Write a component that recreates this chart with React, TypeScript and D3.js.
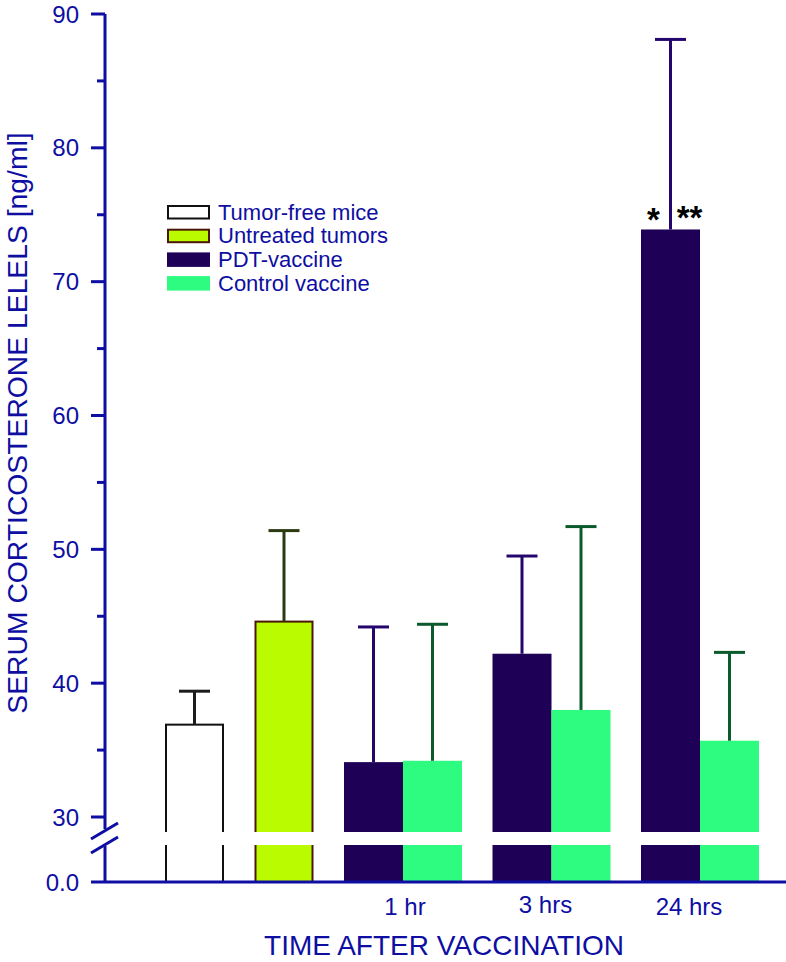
import React from "react";
import * as d3 from "d3";

// ---- data ----
const categories = ["Tumor-free", "Untreated", "1 hr", "3 hrs", "24 hrs"];
const categoryLabels = ["", "", "1 hr", "3 hrs", "24 hrs"];
const legendNames = ["Tumor-free mice", "Untreated tumors", "PDT-vaccine", "Control vaccine"];
const baselineMeans = [36.9, 44.6];
const baselineUpper = [39.4, 51.4];
const pdtMeans = [34.1, 42.2, 73.9];
const pdtUpper = [44.2, 49.5, 88.1];
const controlMeans = [34.2, 38.0, 35.7];
const controlUpper = [44.4, 51.7, 42.3];
const majorTicks = [30, 40, 50, 60, 70, 80, 90];
const minorTicks = [35, 45, 55, 65, 75, 85];

// ---- styles ----
const BLUE = "#0e0ea2";
const FONT = "'Liberation Sans', Arial, Helvetica, sans-serif";
const fills = ["#ffffff", "#bbfb00", "#1e0057", "#2efc80"];
const strokes = ["#111111", "#4a1608", "none", "none"];
const errColors = ["#1c1c1c", "#2c3a12", "#24066e", "#0b5a2c"];

type Bar = { key: string; series: number; cat: number; mean: number; upper: number };

export default function App() {
  const W = 786;
  const H = 962;

  const yUp = d3.scaleLinear().domain([30, 90]).range([817, 14]);
  const breakTop = 832;
  const breakBottom = 845;
  const yLow = d3.scaleLinear().domain([0, 2.8]).range([882, breakBottom]);
  const axisX = 105;

  // build bars
  const bars: Bar[] = [];
  baselineMeans.forEach((m, i) =>
    bars.push({ key: `b${i}`, series: i, cat: i, mean: m, upper: baselineUpper[i] })
  );
  pdtMeans.forEach((m, i) => {
    bars.push({ key: `p${i}`, series: 2, cat: i + 2, mean: m, upper: pdtUpper[i] });
    bars.push({ key: `c${i}`, series: 3, cat: i + 2, mean: controlMeans[i], upper: controlUpper[i] });
  });

  // layout in units: bar = 1, gap between categories = gapRatio
  const gapRatio = 0.517;
  const counts = categories.map((_, ci) => bars.filter((b) => b.cat === ci).length);
  const starts: number[] = [];
  let cursor = 0;
  counts.forEach((n, i) => {
    starts.push(cursor);
    cursor += n + (i < counts.length - 1 ? gapRatio : 0);
  });
  const x = d3.scaleLinear().domain([0, cursor]).range([165, 759]);
  const bw = x(1) - x(0);
  const barX = (b: Bar) => {
    const idx = bars.filter((o) => o.cat === b.cat).indexOf(b);
    return x(starts[b.cat] + idx);
  };
  const catCenter = (ci: number) => x(starts[ci] + counts[ci] / 2);

  const capW = 31;

  return (
    <svg width={W} height={H} style={{ position: "absolute", left: 0, top: 0, background: "#fff" }}>
      <rect x={0} y={0} width={W} height={H} fill="#fff" />
      {/* bars */}
      {bars.map((b) => {
        const bx = barX(b);
        const top = yUp(b.mean);
        const bottom = yLow(0);
        const sw = b.series === 0 ? 2 : b.series === 1 ? 2 : 0;
        return (
          <rect
            key={b.key}
            x={bx + sw / 2}
            y={top}
            width={bw - sw}
            height={bottom - top}
            fill={fills[b.series]}
            stroke={strokes[b.series]}
            strokeWidth={sw}
          />
        );
      })}
      {/* error bars */}
      {bars.map((b) => {
        const cx = barX(b) + bw / 2;
        const top = yUp(b.upper);
        return (
          <g key={"e" + b.key} stroke={errColors[b.series]} strokeWidth={3}>
            <line x1={cx} x2={cx} y1={yUp(b.mean)} y2={top} />
            <line x1={cx - capW / 2} x2={cx + capW / 2} y1={top} y2={top} />
          </g>
        );
      })}
      {/* significance */}
      {(() => {
        const b = bars.find((o) => o.key === "p2")!;
        const cx = barX(b) + bw / 2;
        const yy = yUp(b.mean);
        return (
          <g fontFamily={FONT} fontWeight="bold" fontSize={33} fill="#000">
            <text x={cx - 17} y={yy + 1.5} textAnchor="middle">*</text>
            <text x={cx + 19} y={yy} textAnchor="middle">**</text>
          </g>
        );
      })()}
      {/* break band */}
      <rect x={axisX + 2} y={breakTop} width={W} height={breakBottom - breakTop} fill="#fff" />

      {/* y axis */}
      <g stroke={BLUE} strokeWidth={3}>
        <line x1={axisX} x2={axisX} y1={yUp(90)} y2={829} />
        <line x1={axisX} x2={axisX} y1={846} y2={yLow(0)} />
        {majorTicks.map((t) => (
          <line key={t} x1={91} x2={axisX} y1={yUp(t)} y2={yUp(t)} />
        ))}
        {minorTicks.map((t) => (
          <line key={t} x1={97} x2={axisX} y1={yUp(t)} y2={yUp(t)} />
        ))}
        <line x1={91} x2={118} y1={839} y2={823} />
        <line x1={91} x2={118} y1={853} y2={837} />
        {/* x axis */}
        <line x1={91} x2={W} y1={yLow(0)} y2={yLow(0)} />
      </g>
      <g fontFamily={FONT} fontSize={24} fill={BLUE} textAnchor="end">
        {majorTicks.map((t) => (
          <text key={t} x={79} y={yUp(t) + 8.5}>
            {t}
          </text>
        ))}
        <text x={79} y={yLow(0) + 8.5}>0.0</text>
      </g>
      {/* category labels */}
      <g fontFamily={FONT} fontSize={24} fill={BLUE} textAnchor="middle">
        {categoryLabels.map((l, i) =>
          l ? (
            <text key={i} x={catCenter(i) + (i === 2 ? 2 : i === 3 ? -6 : -11)} y={i === 3 ? 913 : 915}>
              {l}
            </text>
          ) : null
        )}
      </g>
      {/* axis titles */}
      <text x={444} y={955} fontFamily={FONT} fontSize={28} fill={BLUE} textAnchor="middle">
        TIME AFTER VACCINATION
      </text>
      <text
        transform={`translate(26.5,423) rotate(-90)`}
        fontFamily={FONT}
        fontSize={28.3}
        fill={BLUE}
        textAnchor="middle"
      >
        SERUM CORTICOSTERONE LELELS [ng/ml]
      </text>
      {/* legend */}
      <g fontFamily={FONT} fontSize={22} fill={BLUE}>
        {legendNames.map((n, i) => {
          const ry = 205 + i * 23.7;
          const sw = i < 2 ? 2 : 0;
          return (
            <g key={n}>
              <rect
                x={167 + sw / 2}
                y={ry + sw / 2}
                width={43 - sw}
                height={14.5 - sw}
                fill={fills[i]}
                stroke={i === 0 ? "#111" : i === 1 ? "#4a1608" : "none"}
                strokeWidth={sw}
              />
              <text x={218} y={ry + 14.5}>
                {n}
              </text>
            </g>
          );
        })}
      </g>
    </svg>
  );
}
